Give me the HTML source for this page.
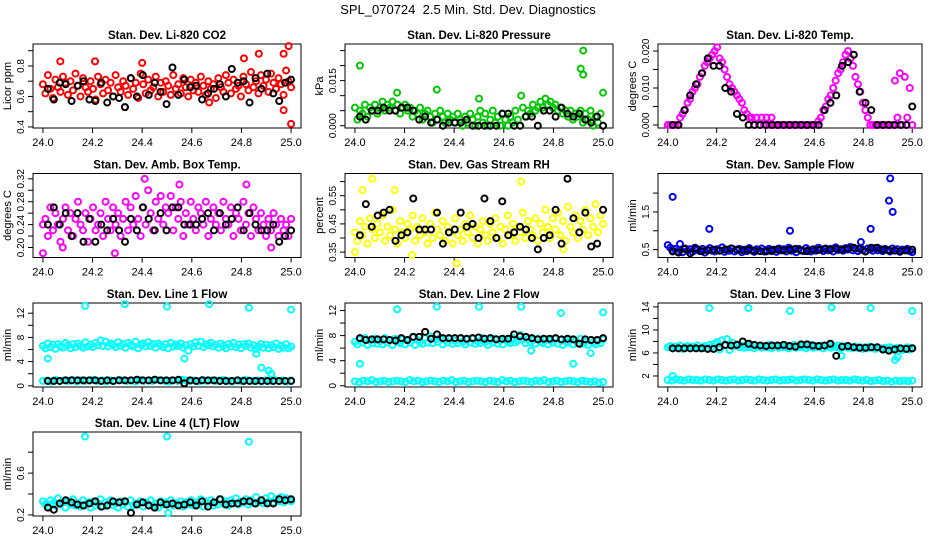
<!DOCTYPE html>
<html><head><meta charset="utf-8"><style>
html,body{margin:0;padding:0;background:#fff}
svg{display:block;font-family:"Liberation Sans",Arial,sans-serif}
</style></head><body>
<svg id="c" width="936" height="540" viewBox="0 0 936 540" xmlns="http://www.w3.org/2000/svg">
<rect width="936" height="540" fill="#fff"/>
<text x="468" y="14" font-size="13" text-anchor="middle">SPL_070724&#160; 2.5 Min. Std. Dev. Diagnostics</text>
</svg>
<script>
// ---------- data ----------
const xTicks=[24.0,24.2,24.4,24.6,24.8,25.0];
const xTickLabels=["24.0","24.2","24.4","24.6","24.8","25.0"];

const co2Red=[0.68,0.62,0.74,0.65,0.59,0.71,0.66,0.63,0.73,0.69,0.61,0.70,0.64,0.75,0.67,0.60,0.72,0.66,0.63,0.70,0.65,0.58,0.73,0.68,0.62,0.71,0.64,0.69,0.60,0.74,0.66,0.63,0.70,0.67,0.61,0.72,0.65,0.69,0.59,0.75,0.68,0.62,0.71,0.64,0.66,0.73,0.60,0.69,0.63,0.70,0.67,0.61,0.74,0.65,0.68,0.62,0.72,0.66,0.60,0.71,0.64,0.69,0.63,0.73,0.67,0.61,0.70,0.65,0.68,0.59,0.72,0.66,0.63,0.74,0.69,0.62,0.71,0.65,0.67,0.60,0.73,0.68,0.64,0.76,0.66,0.70,0.62,0.74,0.67,0.71,0.63,0.75,0.69,0.65,0.72,0.68,0.61,0.77,0.70,0.66];
const co2Black=[0.65,0.58,0.69,0.68,0.57,0.67,0.70,0.58,0.57,0.69,0.56,0.60,0.59,0.53,0.72,0.60,0.74,0.61,0.69,0.63,0.55,0.79,0.61,0.71,0.66,0.67,0.58,0.62,0.65,0.68,0.60,0.78,0.69,0.70,0.56,0.72,0.65,0.75,0.62,0.57,0.69,0.71];
const co2OutX=[24.33,24.67,24.07,24.21,24.40,24.81,24.87,24.97,24.99,25.0,24.97];
const co2OutY=[0.53,0.56,0.83,0.83,0.82,0.85,0.88,0.88,0.93,0.42,0.51];

const presGreen=[0.006,0.002,0.005,0.004,0.007,0.003,0.006,0.005,0.007,0.004,0.006,0.008,0.005,0.007,0.006,0.008,0.005,0.007,0.004,0.006,0.007,0.005,0.006,0.003,0.005,0.004,0.006,0.002,0.004,0.005,0.003,0.001,0.004,0.002,0.005,0.003,0.001,0.004,0.002,0.003,0.001,0.004,0.002,0.000,0.003,0.001,0.004,0.002,0.000,0.003,0.005,0.001,0.004,0.000,0.002,0.005,0.001,0.003,0.000,0.004,0.002,0.000,0.003,0.001,0.005,0.002,0.000,0.006,0.003,0.005,0.004,0.007,0.005,0.006,0.008,0.006,0.009,0.007,0.008,0.006,0.007,0.005,0.006,0.004,0.005,0.003,0.005,0.002,0.004,0.003,0.005,0.001,0.004,0.002,0.005,0.000,0.003,0.001,0.004,0.000];
const presBlack=[0.003,0.002,0.005,0.005,0.006,0.005,0.005,0.006,0.006,0.005,0.002,0.003,0.001,0.002,0.000,0.001,0.001,0.001,0.002,0.000,0.000,0.000,0.000,0.000,0.004,0.004,0.000,0.000,0.003,0.003,0.000,0.005,0.005,0.003,0.006,0.004,0.003,0.004,0.002,0.001,0.003,0.000];
const presOutX=[24.02,24.17,24.33,24.50,24.67,24.92,24.91,24.92,25.0];
const presOutY=[0.020,0.011,0.012,0.009,0.010,0.025,0.019,0.017,0.011];

const tempMag=[0,0,0,0,0,0.002,0.003,0.004,0.006,0.007,0.009,0.010,0.011,0.013,0.014,0.016,0.017,0.018,0.019,0.020,0.021,0.018,0.017,0.015,0.013,0.011,0.010,0.009,0.008,0.007,0.006,0.004,0.003,0.002,0.002,0,0.002,0,0.002,0,0.002,0,0.002,0,0,0,0,0,0,0,0,0,0,0,0,0,0,0,0,0,0,0.001,0.002,0.004,0.005,0.007,0.008,0.010,0.012,0.014,0.015,0.017,0.019,0.020,0.018,0.016,0.013,0.011,0.009,0.006,0.004,0.002,0,0,0,0,0,0,0,0,0,0,0.012,0.002,0.014,0,0.013,0.002,0.010,0];
const tempBlack=[0,0,0.004,0.008,0.011,0.014,0.018,0.016,0.016,0.010,0.009,0.003,0.002,0,0,0,0,0,0,0,0,0,0,0,0,0,0.004,0.006,0.008,0.016,0.017,0.019,0.009,0.006,0.004,0,0,0,0,0,0,0.005];
const tempOutX=[];
const tempOutY=[];

const ambMag=[0.24,0.25,0.22,0.27,0.23,0.26,0.24,0.21,0.25,0.27,0.23,0.26,0.22,0.25,0.28,0.24,0.23,0.26,0.21,0.25,0.27,0.23,0.24,0.26,0.22,0.28,0.25,0.23,0.27,0.24,0.26,0.22,0.25,0.28,0.23,0.27,0.24,0.29,0.25,0.22,0.27,0.24,0.30,0.26,0.23,0.28,0.25,0.29,0.24,0.27,0.26,0.29,0.23,0.27,0.25,0.28,0.22,0.26,0.24,0.28,0.25,0.23,0.27,0.26,0.24,0.28,0.22,0.25,0.27,0.24,0.26,0.23,0.28,0.25,0.24,0.27,0.22,0.26,0.25,0.23,0.28,0.24,0.26,0.22,0.27,0.25,0.23,0.26,0.24,0.22,0.25,0.23,0.26,0.24,0.22,0.25,0.23,0.24,0.22,0.25];
const ambBlack=[0.24,0.27,0.24,0.26,0.22,0.26,0.21,0.25,0.21,0.24,0.23,0.25,0.23,0.21,0.25,0.23,0.27,0.25,0.23,0.26,0.23,0.27,0.27,0.24,0.24,0.24,0.25,0.26,0.23,0.26,0.24,0.25,0.27,0.23,0.26,0.24,0.23,0.23,0.24,0.21,0.22,0.23];
const ambOutX=[24.41,24.55,24.82,24.0,24.29,24.08,24.92];
const ambOutY=[0.32,0.31,0.31,0.19,0.19,0.20,0.20];

const rhYellow=[0.42,0.39,0.46,0.41,0.44,0.38,0.47,0.43,0.40,0.45,0.42,0.48,0.39,0.44,0.41,0.50,0.43,0.38,0.46,0.42,0.40,0.45,0.43,0.48,0.39,0.44,0.41,0.47,0.42,0.38,0.45,0.40,0.49,0.43,0.41,0.46,0.39,0.44,0.42,0.38,0.47,0.41,0.43,0.39,0.45,0.42,0.48,0.40,0.44,0.38,0.43,0.46,0.41,0.39,0.45,0.42,0.47,0.40,0.44,0.38,0.43,0.48,0.41,0.45,0.39,0.44,0.42,0.49,0.40,0.46,0.43,0.41,0.47,0.39,0.45,0.42,0.50,0.44,0.40,0.47,0.43,0.49,0.41,0.46,0.39,0.51,0.44,0.42,0.48,0.40,0.46,0.43,0.50,0.41,0.47,0.44,0.52,0.42,0.48,0.45];
const rhBlack=[0.41,0.52,0.44,0.48,0.49,0.50,0.39,0.41,0.42,0.54,0.43,0.43,0.43,0.49,0.38,0.42,0.43,0.49,0.44,0.45,0.40,0.54,0.46,0.40,0.53,0.41,0.42,0.44,0.43,0.40,0.36,0.40,0.41,0.50,0.38,0.61,0.47,0.42,0.49,0.37,0.38,0.50];
const rhOutX=[24.07,24.03,24.16,24.23,24.41,24.67,24.0,24.84];
const rhOutY=[0.61,0.57,0.57,0.34,0.31,0.60,0.35,0.36];

const flowBlue=[0.62,0.55,0.48,0.52,0.45,0.50,0.43,0.53,0.47,0.51,0.44,0.55,0.49,0.46,0.52,0.42,0.50,0.54,0.47,0.45,0.51,0.48,0.56,0.44,0.50,0.47,0.53,0.45,0.49,0.52,0.43,0.50,0.46,0.54,0.48,0.44,0.51,0.47,0.53,0.45,0.49,0.52,0.46,0.50,0.44,0.53,0.48,0.51,0.45,0.55,0.47,0.50,0.43,0.52,0.48,0.46,0.54,0.49,0.45,0.51,0.47,0.55,0.50,0.46,0.53,0.48,0.52,0.45,0.56,0.49,0.51,0.47,0.54,0.50,0.57,0.48,0.52,0.46,0.55,0.49,0.45,0.53,0.50,0.47,0.54,0.48,0.51,0.46,0.52,0.49,0.45,0.53,0.47,0.51,0.44,0.50,0.48,0.52,0.46,0.43];
const flowBlack=[0.45,0.42,0.52,0.40,0.53,0.46,0.48,0.50,0.47,0.50,0.53,0.50,0.48,0.50,0.47,0.46,0.45,0.48,0.50,0.48,0.50,0.52,0.48,0.46,0.50,0.49,0.52,0.50,0.52,0.50,0.53,0.55,0.52,0.45,0.55,0.55,0.50,0.48,0.48,0.46,0.48,0.50];
const flowOutX=[24.02,24.17,24.50,24.83,24.91,24.905,24.92,24.05,24.79];
const flowOutY=[1.9,1.05,1.0,1.05,2.39,1.8,1.5,0.65,0.7];

const line1Up=[6.6,6.2,7.0,6.4,6.8,6.1,6.9,6.5,6.3,7.1,6.7,6.2,6.9,6.4,7.0,6.6,6.3,7.2,6.5,6.8,6.4,7.1,6.7,7.5,6.6,7.3,6.5,7.0,6.8,6.4,7.2,6.6,6.9,6.3,7.1,6.7,6.5,7.3,6.2,6.8,7.0,6.5,7.2,6.6,6.9,6.3,7.0,6.7,6.4,6.9,6.2,7.1,6.5,6.8,6.6,7.0,6.3,6.7,5.8,6.9,6.5,7.2,6.6,7.3,6.4,6.9,6.7,7.1,6.5,6.8,6.3,7.0,6.6,6.2,6.9,6.5,7.1,6.4,6.8,6.2,6.9,6.6,7.0,6.3,6.7,6.1,6.5,6.9,6.3,6.8,6.2,6.7,6.4,7.0,6.1,6.6,6.3,6.9,6.2,6.5];
const line1Low=[0.8,0.9,0.7,1.0,0.8,0.9,0.8,1.0,0.7,0.9,0.8,0.9,1.0,0.8,0.9,0.7,0.9,0.8,1.0,0.9,0.8,0.9,0.7,1.0,0.8,0.9,0.8,1.0,0.9,0.8,0.7,0.9,0.8,1.0,0.9,0.8,0.9,0.7,1.0,0.8,0.9,0.8,0.9,1.0,0.8,0.7,0.9,0.8,1.0,0.9,0.8,0.9,0.7,0.9,0.8,1.0,0.8,0.9,0.7,0.9];
const line1Black=[0.8,0.8,0.8,0.9,0.9,0.9,0.9,0.9,0.9,0.8,0.9,0.8,0.9,0.9,0.9,1.0,0.9,0.9,1.0,0.9,0.9,0.9,1.0,0.4,0.9,0.8,0.9,0.9,0.9,0.8,0.8,0.8,0.9,0.8,0.8,0.8,0.8,0.8,0.8,0.8,0.8,0.8];
const line1OutX=[24.17,24.33,24.50,24.67,24.83,25.0,24.02,24.57,24.86,24.88,24.91,24.92];
const line1OutY=[13.2,13.5,13.1,13.5,12.9,12.6,4.5,4.5,5.3,3.0,2.5,2.0];

const line2Up=[7.0,6.6,7.4,6.9,7.6,6.5,7.2,6.8,7.5,6.7,7.1,6.6,7.6,6.9,7.3,6.5,7.5,7.0,6.8,7.4,6.6,7.2,6.9,7.7,6.5,7.3,7.0,6.7,7.6,6.9,7.9,6.8,7.4,7.0,7.6,6.6,7.3,6.9,7.5,6.7,7.2,6.8,7.6,7.0,6.6,7.4,6.9,7.5,6.7,7.1,6.8,7.6,7.0,6.5,7.3,6.9,7.5,6.7,7.2,6.6,7.4,7.0,6.8,7.6,6.9,7.2,8.1,7.4,6.8,7.5,6.9,7.3,6.7,7.5,7.0,6.8,7.4,6.6,7.2,6.9,7.5,6.7,7.3,6.5,7.1,6.9,7.4,6.6,7.2,6.8,7.5,6.7,7.0,6.5,7.3,6.9,6.6,7.2,6.8,7.4];
const line2Low=[0.7,0.6,0.8,0.7,0.9,0.6,0.7,0.8,0.6,0.7,0.8,0.7,0.6,0.9,0.7,0.8,0.6,0.7,0.8,0.7,0.6,0.8,0.7,0.9,0.6,0.7,0.8,0.6,0.7,0.8,0.7,0.6,0.8,0.7,0.6,0.9,0.7,0.8,0.6,0.7,0.8,0.7,0.6,0.8,0.7,0.9,0.6,0.7,0.8,0.6,0.7,0.8,0.7,0.6,0.8,0.7,0.6,0.7,0.5,0.6];
const line2Black=[7.6,7.3,7.4,7.4,7.4,7.3,7.2,7.6,7.3,7.8,7.8,8.6,7.5,8.2,7.6,7.6,7.6,7.6,7.5,7.6,7.7,7.5,7.6,7.4,7.5,7.5,8.2,7.9,7.8,7.6,7.4,7.5,7.5,7.6,7.4,7.5,7.4,6.7,7.4,7.3,7.3,7.6];
const line2OutX=[24.17,24.33,24.50,24.67,24.83,25.0,24.02,24.88,24.95,24.71];
const line2OutY=[12.2,12.6,12.6,12.6,11.6,11.7,3.5,3.5,5.2,5.6];

const line3Up=[7.0,7.2,6.8,7.1,6.9,7.3,6.7,7.0,7.2,6.8,7.1,6.9,7.3,6.8,7.0,7.2,6.9,7.4,7.1,7.6,7.9,6.6,8.2,7.3,8.4,6.5,7.8,7.2,7.5,7.0,7.3,6.9,7.2,7.0,7.4,6.8,7.1,7.3,6.9,7.2,7.0,7.4,6.8,7.1,7.3,6.9,7.2,7.0,7.3,6.8,7.1,7.4,6.9,7.2,7.0,7.3,6.8,7.1,7.4,6.9,7.2,7.0,7.3,6.8,7.1,7.4,6.9,7.2,7.0,7.3,6.8,7.1,7.2,6.9,7.0,6.8,7.1,6.9,7.0,6.7,7.0,6.8,7.1,6.9,6.7,7.0,6.8,6.6,6.9,6.7,7.0,6.8,6.6,6.9,6.7,6.5,6.8,7.0,6.6,6.9];
const line3Low=[1.3,1.2,1.4,1.3,1.2,1.4,1.3,1.3,1.2,1.4,1.3,1.2,1.4,1.3,1.2,1.3,1.4,1.2,1.3,1.4,1.3,1.2,1.4,1.3,1.2,1.3,1.4,1.2,1.3,1.3,1.4,1.2,1.3,1.4,1.3,1.2,1.4,1.3,1.2,1.3,1.4,1.2,1.3,1.3,1.2,1.4,1.3,1.2,1.3,1.1,1.2,1.3,1.1,1.2,1.0,1.2,1.1,1.2,1.1,1.2];
const line3Black=[6.8,6.8,6.8,6.8,6.8,6.8,6.7,6.7,7.0,7.4,7.3,7.4,8.0,7.6,7.4,7.3,7.2,7.3,7.3,7.4,7.2,7.1,7.5,7.5,7.3,7.2,7.3,7.6,5.5,7.1,7.2,7.0,6.9,6.9,7.0,7.0,6.6,6.4,6.6,6.8,6.7,6.8];
const line3OutX=[24.17,24.33,24.50,24.67,24.83,25.0,24.02,24.71,24.93,24.94];
const line3OutY=[13.8,13.8,13.3,13.9,13.8,13.3,2.0,5.5,4.8,5.3];

const line4Cyan=[0.33,0.30,0.28,0.34,0.31,0.29,0.36,0.30,0.32,0.27,0.33,0.30,0.35,0.29,0.31,0.28,0.34,0.30,0.32,0.27,0.33,0.29,0.31,0.35,0.28,0.32,0.30,0.34,0.29,0.31,0.27,0.33,0.30,0.32,0.28,0.34,0.29,0.31,0.30,0.33,0.28,0.32,0.30,0.34,0.29,0.31,0.27,0.33,0.30,0.32,0.22,0.34,0.29,0.31,0.30,0.33,0.28,0.32,0.30,0.34,0.29,0.32,0.30,0.35,0.28,0.33,0.31,0.34,0.29,0.32,0.30,0.35,0.31,0.33,0.29,0.34,0.31,0.36,0.30,0.33,0.32,0.35,0.30,0.34,0.31,0.37,0.32,0.34,0.31,0.36,0.33,0.38,0.32,0.35,0.33,0.37,0.32,0.36,0.34,0.33];
const line4Black=[0.27,0.25,0.31,0.34,0.32,0.30,0.29,0.31,0.33,0.28,0.29,0.33,0.32,0.33,0.22,0.30,0.32,0.29,0.27,0.32,0.30,0.31,0.29,0.30,0.32,0.29,0.33,0.28,0.32,0.35,0.30,0.31,0.31,0.33,0.33,0.31,0.34,0.31,0.31,0.35,0.34,0.35];
const line4OutX=[24.17,24.50,24.83];
const line4OutY=[0.95,0.95,0.90];

// ---------- layout ----------
const cols=[[33,301],[345,613],[658,922]];
const rows=[44,173.5,303,432];
const BOXH=84;
const NS="http://www.w3.org/2000/svg";
const svg=document.getElementById('c');
function mk(tag,attrs,parent){const e=document.createElementNS(NS,tag);for(const k in attrs)e.setAttribute(k,attrs[k]);(parent||svg).appendChild(e);return e;}

const panels=[
 {name:'co2',title:'Stan. Dev. Li-820 CO2',ylab:'Licor ppm',c:0,r:0,ylim:[0.393,0.944],ticks:[0.4,0.5,0.6,0.7,0.8,0.9],labs:{0.4:'0.4',0.6:'0.6',0.8:'0.8'},color:'#ff0000',main:[co2Red],black:co2Black,ox:co2OutX,oy:co2OutY},
 {name:'pressure',title:'Stan. Dev. Li-820 Pressure',ylab:'kPa',c:1,r:0,ylim:[-0.00077,0.0272],ticks:[0,0.005,0.01,0.015,0.02,0.025],labs:{0:'0.000',0.015:'0.015'},color:'#00c800',main:[presGreen],black:presBlack,ox:presOutX,oy:presOutY},
 {name:'temp',title:'Stan. Dev. Li-820 Temp.',ylab:'degrees C',c:2,r:0,ylim:[-0.00082,0.0219],ticks:[0,0.005,0.01,0.015,0.02],labs:{0:'0.000',0.01:'0.010',0.02:'0.020'},color:'#ff00ff',main:[tempMag],black:tempBlack,ox:tempOutX,oy:tempOutY},
 {name:'amb-temp',title:'Stan. Dev. Amb. Box Temp.',ylab:'degrees C',c:0,r:1,ylim:[0.1825,0.3293],ticks:[0.20,0.22,0.24,0.26,0.28,0.30,0.32],labs:{0.2:'0.20',0.24:'0.24',0.28:'0.28',0.32:'0.32'},color:'#ff00ff',main:[ambMag],black:ambBlack,ox:ambOutX,oy:ambOutY},
 {name:'rh',title:'Stan. Dev. Gas Stream RH',ylab:'percent',c:1,r:1,ylim:[0.331,0.6286],ticks:[0.35,0.40,0.45,0.50,0.55,0.60],labs:{0.35:'0.35',0.45:'0.45',0.55:'0.55'},color:'#ffff00',main:[rhYellow],black:rhBlack,ox:rhOutX,oy:rhOutY},
 {name:'sample-flow',title:'Stan. Dev. Sample Flow',ylab:'ml/min',c:2,r:1,ylim:[0.29,2.52],ticks:[0.5,1.0,1.5,2.0],labs:{0.5:'0.5',1.5:'1.5'},color:'#0000ff',main:[flowBlue],black:flowBlack,ox:flowOutX,oy:flowOutY},
 {name:'line1-flow',title:'Stan. Dev. Line 1 Flow',ylab:'ml/min',c:0,r:2,ylim:[-0.2,13.69],ticks:[0,2,4,6,8,10,12],labs:{0:'0',4:'4',8:'8',12:'12'},color:'#00ffff',main:[line1Up,line1Low],black:line1Black,ox:line1OutX,oy:line1OutY},
 {name:'line2-flow',title:'Stan. Dev. Line 2 Flow',ylab:'ml/min',c:1,r:2,ylim:[-0.2,13.2],ticks:[0,2,4,6,8,10,12],labs:{0:'0',4:'4',8:'8',12:'12'},color:'#00ffff',main:[line2Up,line2Low],black:line2Black,ox:line2OutX,oy:line2OutY},
 {name:'line3-flow',title:'Stan. Dev. Line 3 Flow',ylab:'ml/min',c:2,r:2,ylim:[0.085,14.68],ticks:[2,4,6,8,10,12,14],labs:{2:'2',6:'6',10:'10',14:'14'},color:'#00ffff',main:[line3Up,line3Low],black:line3Black,ox:line3OutX,oy:line3OutY},
 {name:'line4-flow',title:'Stan. Dev. Line 4 (LT) Flow',ylab:'ml/min',c:0,r:3,ylim:[0.19,0.993],ticks:[0.2,0.4,0.6,0.8],labs:{0.2:'0.2',0.6:'0.6'},color:'#00ffff',main:[line4Cyan],black:line4Black,ox:line4OutX,oy:line4OutY}
];

panels.forEach(p=>{
  const L=cols[p.c][0],R=cols[p.c][1],T=rows[p.r],B=T+BOXH,W=R-L;
  const xs=v=>L+W*(0.04+(v-24))/1.08;
  const ys=v=>B-(v-p.ylim[0])/(p.ylim[1]-p.ylim[0])*BOXH;
  const g=mk('g',{});
  
  
  const t=mk('text',{x:(L+R)/2,y:T-5,'font-size':11.5,'font-weight':'bold','text-anchor':'middle'},g);
  t.textContent=p.title;
  
  
  const box=mk('rect',{x:L,y:T,width:W,height:BOXH,fill:'none',stroke:'#000','stroke-width':1},g);
  
  
  xTicks.forEach((v,i)=>{
    const x=xs(v);
    mk('line',{x1:x,x2:x,y1:B,y2:B+5,stroke:'#000'},g);
    const lt=mk('text',{x:x,y:B+18,'font-size':11,'text-anchor':'middle'},g);
    lt.textContent=xTickLabels[i];
    
    
  });
  p.ticks.forEach(v=>{
    const y=ys(v);
    mk('line',{x1:L-5,x2:L,y1:y,y2:y,stroke:'#000'},g);
    const key=Object.keys(p.labs).find(k=>Math.abs(parseFloat(k)-v)<1e-9);
    if(key!==undefined){
      const yt=mk('text',{x:L-9,y:y,'font-size':10,'text-anchor':'middle',transform:`rotate(-90 ${L-9} ${y})`},g);
      yt.textContent=p.labs[key];
      
      
    }
  });
  const yl=mk('text',{x:L-22,y:T+BOXH/2,'font-size':11,'text-anchor':'middle',transform:`rotate(-90 ${L-22} ${T+BOXH/2})`},g);
  yl.textContent=p.ylab;
  
  
  p.main.forEach(arr=>{
    const n=arr.length;
    arr.forEach((v,i)=>{
      const c=mk('circle',{cx:xs(24+i/(n-1)),cy:ys(v),r:3,fill:'none',stroke:p.color,'stroke-width':2},g);
      
      
    });
  });
  p.ox.forEach((v,i)=>{
    const c=mk('circle',{cx:xs(v),cy:ys(p.oy[i]),r:3,fill:'none',stroke:p.color,'stroke-width':2},g);
    
    
  });
  const nb=p.black.length;
  p.black.forEach((v,i)=>{
    const c=mk('circle',{cx:xs(24.02+0.98*i/(nb-1)),cy:ys(v),r:3,fill:'none',stroke:'#000','stroke-width':2},g);
    
    
  });
});
</script>
</body></html>
